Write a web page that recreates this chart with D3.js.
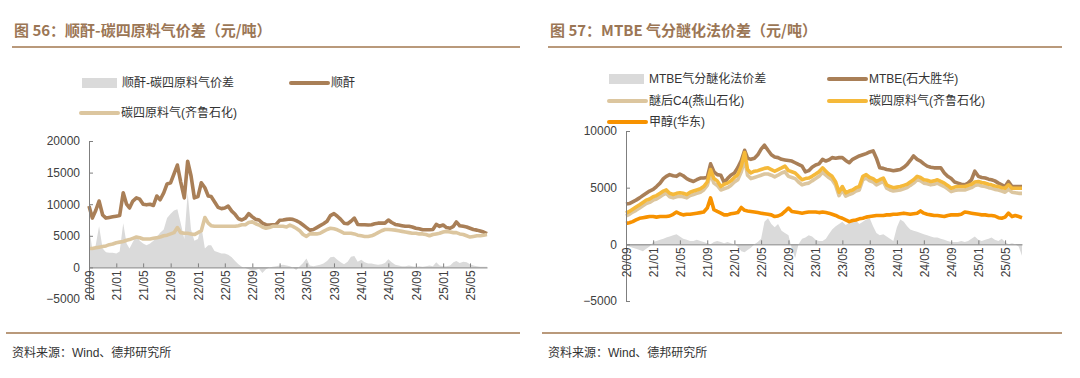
<!DOCTYPE html>
<html lang="zh">
<head>
<meta charset="utf-8" />
<title>顺酐 / MTBE 价差</title>
<script src="https://d3js.org/d3.v7.min.js"></script>
<style>
    body, html { margin: 0; padding: 0; background: #fff; overflow: hidden; }
    svg { display: block; font-family: "Liberation Sans", Arial, "Noto Sans CJK SC", sans-serif; }
    .title { font-family: "Noto Sans CJK SC", sans-serif; font-weight: bold; font-size: 15px; fill: #9b7655; }
    .legend text { font-family: "Liberation Sans", "Noto Sans CJK SC", sans-serif; font-size: 12px; fill: #333; }
    .source { font-family: "Liberation Sans", "Noto Sans CJK SC", sans-serif; font-size: 12px; fill: #333; }
    .axis text { font-size: 12px; fill: #404040; font-family: "Liberation Sans", Arial, sans-serif; }
    .axis path, .axis line { stroke: #7f7f7f; }
</style>
</head>
<body>
<div id="chart"></div>
<script>
// 半月采样的日期 (2020/09/01 起, 每月 1 日和 16 日)
const startMonth = new Date(2020, 8, 1);
const nPoints = 118;
const dates = d3.range(nPoints).map(i => {
    const m = d3.timeMonth.offset(startMonth, Math.floor(i / 2));
    return i % 2 === 0 ? m : d3.timeDay.offset(m, 15);
});
const xTicks = d3.timeMonth.every(4).range(new Date(2020, 8, 1), new Date(2025, 5, 2));

// ---------- 图 56 ----------
const maSpread = [6500, 2800, 3500, 6500, 3000, 2400, 2300, 2300, 2200, 2500,
    7000, 3800, 3000, 4000, 5000, 4200, 3800, 3500, 3800, 4200,
    4800, 5500, 6000, 7800, 8500, 9000, 9200, 7000, 4500, 11800,
    6000, 4200, 4500, 6500, 3000, 3500, 3500, 2600, 2400, 2200,
    2200, 2000, 1600, 1000, 500, 100, -100, -300, -600, -400,
    -200, -900, -300, 0, 100, 200, 300, 400, 300, 200,
    0, -400, 200, 700, 1400, 300, 200, 300, 400, 600,
    1000, 1600, 1700, 1200, 800, 500, 900, 1700, 1800, 900,
    1200, 800, 600, 600, 500, 400, 500, 700, 1300, 800,
    400, 300, 200, 200, 300, 200, 100, 200, 100, 200,
    300, 200, 800, 300, 200, 200, 300, 800, 1000, 700,
    900, 800, 500, 300, 200, 100, 100, 100];
const maPrice = [9700, 7800, 9000, 10500, 8300, 7800, 7900, 8000, 8100, 8200,
    11800, 10000, 9400, 10500, 11000, 10800, 10000, 9900, 10000, 9800,
    11300, 10700, 11800, 13200, 13400, 14800, 16200, 13500, 11000, 16800,
    14500, 11000, 11200, 13400, 12600, 11300, 11200, 10400, 9500, 9300,
    9400, 9700, 8900, 8400, 7700, 7500, 7800, 8500, 8000, 7600,
    7500, 7000, 6750, 6700, 6750, 6800, 7450, 7500, 7600, 7650,
    7600, 7400, 7100, 6700, 6300, 5900, 6000, 6300, 6600, 6900,
    7300, 8200, 8500, 8100, 7600, 7000, 6900, 7300, 7800, 6800,
    6750, 6750, 6700, 6750, 6900, 7000, 7000, 7000, 7500, 7100,
    6800, 6700, 6600, 6500, 6500, 6400, 6200, 6100, 5950, 5950,
    5950, 6000, 6800, 6500, 6700, 6300, 6200, 6500, 7200, 6600,
    6500, 6400, 6200, 6000, 5900, 5750, 5600, 5350];
const c4Qilu = [3000, 3000, 3100, 3200, 3300, 3400, 3600, 3700, 3900, 4000,
    4100, 4300, 4400, 4600, 4800, 4700, 4500, 4500, 4500, 4600,
    4700, 4800, 5000, 5100, 5300, 5500, 6300, 5500, 5400, 5400,
    5300, 5200, 5500, 5800, 7900, 7000, 6600, 6500, 6500, 6500,
    6500, 6500, 6500, 6500, 6600, 6750, 6750, 7100, 7200, 6900,
    6700, 6400, 6200, 6300, 6500, 6500, 6500, 6500, 6400, 6700,
    6500, 6200, 5800, 5200, 4900, 5300, 5300, 5300, 5400, 5700,
    6000, 6200, 6100, 5950, 5700, 5400, 5400, 5400, 5300, 5100,
    5000, 4900, 4900, 5000, 5200, 5500, 5800, 6000, 6000, 5950,
    5900, 5800, 5700, 5600, 5500, 5400, 5400, 5300, 5300, 5200,
    5000, 5200, 5300, 5400, 5600, 5700, 5600, 5500, 5500, 5300,
    5200, 5000, 4800, 4900, 5000, 5000, 5100, 5200];

// ---------- 图 57 ----------
const mtbeSpread = [-100, -200, -300, -400, -500, -600, -400, -200, 200, 300,
    400, 500, 600, 700, 800, 900, 700, 500, 400, 300,
    300, 400, 300, 200, 100, 0, 200, 300, 200, 100,
    200, 100, 0, -200, -600, -700, -500, -300, 0, 200,
    500, 2000, 2300, 1800, 1500, 1800, 1200, 1000, 800, -400,
    -1200, 0, 500, 600, 800, 700, 400, 300, 300, 500,
    900, 1300, 1600, 1800, 2000, 1700, 1900, 2000, 2100, 1800,
    2000, 2200, 2300, 1600, 1000, 800, 900, 700, 500, 300,
    1500, 2200, 2000, 1600, 1300, 1200, 1100, 1000, 900, 800,
    700, 600, 600, 500, 400, 300, 200, 200, 200, 300,
    200, 300, 500, 700, 400, 300, 400, 500, 600, 400,
    300, 500, 200, 0, 100, 0, -200, -1000];
const mtbePrice = [3550, 3600, 3750, 3900, 4100, 4300, 4500, 4700, 4850, 5100,
    5400, 5800, 6000, 6150, 6050, 6000, 6200, 6050, 5800, 5650,
    5550, 5700, 5850, 5850, 5900, 7100, 6400, 6150, 6100, 5450,
    5800, 6100, 6300, 6750, 7400, 8300, 7600, 7500, 7600, 7900,
    8400, 8750, 8300, 7900, 7700, 7650, 7500, 7450, 7400, 7350,
    7200, 7050, 6900, 6400, 6500, 6800, 7000, 7100, 7500, 7350,
    7450, 7650, 7600, 7650, 7650, 7400, 7200, 7500, 7650, 7800,
    7900, 8000, 8150, 8250, 7600, 6750, 6700, 6600, 6550, 6500,
    6550, 6600, 6800, 7050, 7400, 7800, 7500, 7350, 7100, 6900,
    6800, 6750, 6750, 6750, 6300, 6000, 5800, 5500, 5400, 5300,
    5250, 5400, 5700, 6450, 6000, 5900, 5850, 5750, 5700, 5600,
    5400, 5250, 5100, 5550, 5100, 5100, 5100, 5100];
const c4Yanshan = [2500, 2650, 2850, 3000, 3200, 3400, 3600, 3700, 3900, 4000,
    4200, 4400, 4500, 4200, 4100, 4200, 4250, 4200, 4100, 4300,
    4400, 4500, 4600, 4800, 5200, 6200, 5400, 5200, 4800, 4900,
    5000, 5200, 5500, 5700, 6400, 7500, 6100, 5800, 5900, 6000,
    6100, 6200, 6200, 6100, 5950, 6100, 6300, 6400, 6000, 5900,
    5800, 5500, 5250, 5350, 5400, 5600, 5800, 6000, 6350, 6100,
    5900, 5700, 5200, 4300, 4800, 4250, 4400, 4500, 4700, 4800,
    5700, 5850, 5600, 5500, 5250, 5400, 5550, 4950, 4800, 4700,
    4750, 4800, 4900, 5000, 5200, 5400, 5700, 5600, 5400, 5350,
    5250, 5300, 5400, 5250, 5100, 4900, 4650, 4750, 4800, 4800,
    4800, 4900, 5000, 5200, 5250, 5150, 5100, 5000, 4950, 4850,
    4800, 4700, 4600, 4850, 4600, 4550, 4500, 4500];
const c4Qilu2 = [2750, 2900, 3100, 3300, 3500, 3700, 3900, 4000, 4200, 4300,
    4500, 4700, 4800, 4500, 4400, 4500, 4550, 4500, 4400, 4600,
    4700, 4800, 4900, 5100, 5500, 6600, 5800, 5600, 5100, 5300,
    5400, 5600, 5900, 6150, 6900, 8100, 6600, 6300, 6450, 6500,
    6600, 6700, 6750, 6600, 6450, 6600, 6750, 6900, 6500, 6400,
    6300, 6000, 5700, 5800, 5850, 6000, 6200, 6400, 6750, 6450,
    6200, 6000, 5500, 4600, 5100, 4550, 4700, 4800, 5000, 5100,
    6000, 6150, 5900, 5800, 5550, 5700, 5850, 5250, 5100, 5000,
    5050, 5100, 5200, 5300, 5500, 5700, 6000, 5900, 5700, 5650,
    5550, 5600, 5700, 5550, 5400, 5200, 4950, 5050, 5100, 5100,
    5100, 5200, 5300, 5500, 5550, 5450, 5400, 5300, 5250, 5150,
    5100, 5000, 4950, 5250, 4950, 4950, 4950, 4950];
const methanol = [1850, 1900, 2000, 2150, 2300, 2350, 2400, 2450, 2450, 2400,
    2450, 2450, 2450, 2500, 2650, 2850, 2700, 2600, 2650, 2650,
    2700, 2750, 2800, 2850, 3200, 4100, 3050, 2900, 2750, 2600,
    2600, 2700, 2750, 2800, 3250, 3000, 2950, 2900, 2850, 2800,
    2750, 2700, 2650, 2600, 2450, 2500, 2650, 2900, 3200, 2900,
    2850, 2800, 2750, 2800, 2850, 2850, 2850, 2800, 2850, 2800,
    2750, 2650, 2550, 2400, 2300, 2150, 2000, 2100, 2150, 2250,
    2300, 2400, 2450, 2500, 2550, 2550, 2550, 2600, 2600, 2650,
    2650, 2700, 2750, 2700, 2650, 2700, 2750, 2950, 2750, 2650,
    2600, 2550, 2550, 2500, 2450, 2550, 2600, 2600, 2600, 2650,
    2850, 2800, 2750, 2700, 2650, 2600, 2600, 2550, 2550, 2500,
    2350, 2300, 2400, 2750, 2450, 2550, 2450, 2350];

const gray = "#dadada", brown = "#a97f57", beige = "#dcc69f", yellow = "#f5b93a", orange = "#f79200";

const svg = d3.select("#chart").append("svg")
    .attr("width", 1080)
    .attr("height", 378);

function drawPanel(cfg) {
    const g = svg.append("g");

    // 标题 + 分隔线
    g.append("text").attr("class", "title")
        .attr("x", cfg.left + 2).attr("y", 36)
        .text(cfg.title);
    g.append("line")
        .attr("x1", cfg.left).attr("x2", cfg.right)
        .attr("y1", 47).attr("y2", 47)
        .attr("stroke", "#b9997b").attr("stroke-width", 2);
    g.append("line")
        .attr("x1", cfg.left - 6).attr("x2", cfg.right)
        .attr("y1", 333).attr("y2", 333)
        .attr("stroke", "#b9997b").attr("stroke-width", 2);
    g.append("text").attr("class", "source")
        .attr("x", cfg.left).attr("y", 357)
        .text("资料来源：Wind、德邦研究所");

    const x = d3.scaleTime()
        .domain([dates[0], dates[dates.length - 1]])
        .range(cfg.xRange);
    const y = d3.scaleLinear()
        .domain(cfg.yDomain)
        .range(cfg.yRange);

    // 价差面积
    g.append("path")
        .datum(cfg.area.values)
        .attr("fill", gray)
        .attr("d", d3.area()
            .x((d, i) => x(dates[i]))
            .y0(y(0))
            .y1(d => y(d)));

    cfg.lines.forEach(s => {
        g.append("path")
            .datum(s.values)
            .attr("fill", "none")
            .attr("stroke", s.color)
            .attr("stroke-width", 3.6)
            .attr("stroke-linejoin", "round")
            .attr("d", d3.line()
                .x((d, i) => x(dates[i]))
                .y(d => y(d)));
    });

    // y 轴
    g.append("g").attr("class", "axis")
        .attr("transform", `translate(${cfg.xRange[0]},0)`)
        .call(d3.axisLeft(y).tickValues(cfg.yTicks).tickFormat(d3.format("d"))
            .tickSizeInner(-4).tickSizeOuter(0).tickPadding(9));

    // x 轴 (0 处)
    const xAxis = g.append("g").attr("class", "axis")
        .attr("transform", `translate(0,${y(0)})`)
        .call(d3.axisBottom(x).tickValues(xTicks).tickFormat(d3.timeFormat("%y/%m"))
            .tickSizeInner(-4).tickSizeOuter(0));
    xAxis.selectAll("text")
        .attr("transform", "rotate(-90)")
        .attr("text-anchor", "end")
        .attr("x", -3).attr("y", 0).attr("dy", "0.35em");

    // 图例
    const lg = g.append("g").attr("class", "legend");
    cfg.legend.forEach(item => {
        if (item.type === "area") {
            lg.append("rect").attr("x", item.x).attr("y", item.y - 5)
                .attr("width", 35).attr("height", 10).attr("fill", item.color);
        } else {
            lg.append("line").attr("x1", item.x).attr("x2", item.x + 37)
                .attr("y1", item.y).attr("y2", item.y)
                .attr("stroke", item.color).attr("stroke-width", 4)
                .attr("stroke-linecap", "round");
        }
        lg.append("text").attr("x", item.x + 40).attr("y", item.y).attr("dy", "0.35em")
            .text(item.label);
    });
}

drawPanel({
    title: "图 56：顺酐-碳四原料气价差（元/吨）",
    left: 12, right: 520,
    xRange: [89, 487],
    yDomain: [-5000, 20000], yRange: [299, 141],
    yTicks: [-5000, 0, 5000, 10000, 15000, 20000],
    area: { values: maSpread },
    lines: [
        { values: maPrice, color: brown },
        { values: c4Qilu, color: beige }
    ],
    legend: [
        { type: "area", x: 82, y: 83, color: gray, label: "顺酐-碳四原料气价差" },
        { type: "line", x: 291, y: 83, color: brown, label: "顺酐" },
        { type: "line", x: 81, y: 113, color: beige, label: "碳四原料气(齐鲁石化)" }
    ]
});

drawPanel({
    title: "图 57：MTBE 气分醚化法价差（元/吨）",
    left: 548, right: 1062,
    xRange: [626, 1022],
    yDomain: [-5000, 10000], yRange: [301, 131],
    yTicks: [-5000, 0, 5000, 10000],
    area: { values: mtbeSpread },
    lines: [
        { values: mtbePrice, color: brown },
        { values: c4Yanshan, color: beige },
        { values: c4Qilu2, color: yellow },
        { values: methanol, color: orange }
    ],
    legend: [
        { type: "area", x: 609, y: 79, color: gray, label: "MTBE气分醚化法价差" },
        { type: "line", x: 829, y: 79, color: brown, label: "MTBE(石大胜华)" },
        { type: "line", x: 609, y: 101, color: beige, label: "醚后C4(燕山石化)" },
        { type: "line", x: 829, y: 101, color: yellow, label: "碳四原料气(齐鲁石化)" },
        { type: "line", x: 609, y: 122, color: orange, label: "甲醇(华东)" }
    ]
});
</script>
</body>
</html>
